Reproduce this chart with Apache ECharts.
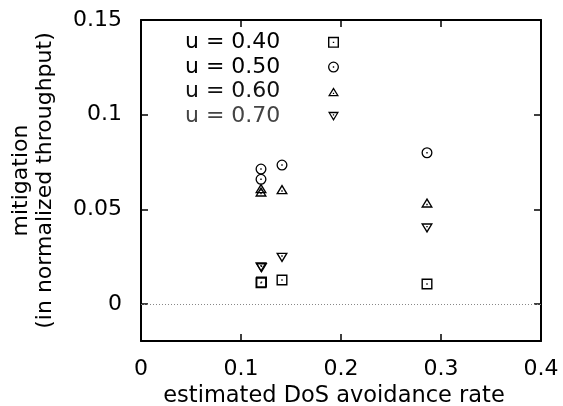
<!DOCTYPE html>
<html>
<head>
<meta charset="utf-8">
<script src="https://cdn.jsdelivr.net/npm/echarts@6/dist/echarts.min.js"></script>
<style>html,body{margin:0;padding:0;background:#fff}#c{width:563px;height:406px}</style>
</head>
<body>
<div id="c"></div>
<script>
var seriesNames = ['u = 0.40', 'u = 0.50', 'u = 0.60', 'u = 0.70'];
var u40 = [[0.12, 0.0112], [0.1205, 0.0116], [0.141, 0.0127], [0.286, 0.0106]];
var u50 = [[0.12, 0.0713], [0.12, 0.0659], [0.141, 0.0734], [0.286, 0.0799]];
var u60 = [[0.12, 0.0611], [0.12, 0.0593], [0.141, 0.0606], [0.286, 0.0535]];
var u70 = [[0.12, 0.0194], [0.1205, 0.0190], [0.141, 0.0245], [0.286, 0.0400]];
var xTicks = [0, 0.1, 0.2, 0.3, 0.4];
var yTicks = [0, 0.05, 0.1, 0.15];
var yTickLabels = ['0', '0.05', '0.1', '0.15'];

var FONT = 'DejaVu Sans';
var symSquare = 'path://M0 0H11V11H0Z M1.4 1.4V9.6H9.6V1.4Z M4.8 4.8H6.2V6.2H4.8Z';
var symCircle = 'path://M5.5 0A5.5 5.5 0 1 1 5.5 11A5.5 5.5 0 1 1 5.5 0Z M5.5 1.3A4.2 4.2 0 1 0 5.5 9.7A4.2 4.2 0 1 0 5.5 1.3Z M4.8 4.8H6.2V6.2H4.8Z';
var symUp = 'path://M6 0L12 10L0 10Z M6 2.7L2.4 8.6L9.6 8.6Z M5.3 6H6.7V7.4H5.3Z';
var symDown = 'path://M0 0L12 0L6 10Z M2.4 1.4L6 7.3L9.6 1.4Z M5.3 2.6H6.7V4H5.3Z';
var symbols = [symSquare, symCircle, symUp, symDown];
var sizes = [[11, 11], [11, 11], [12, 10], [12, 10]];
var datas = [u40, u50, u60, u70];
var textColors = ['#000', '#000', '#111', '#444'];

var chart = echarts.init(document.getElementById('c'), null, {renderer: 'canvas'});
var series = datas.map(function (d, i) {
  var s = {
    name: seriesNames[i],
    type: 'scatter',
    data: d,
    symbol: symbols[i],
    symbolSize: sizes[i],
    itemStyle: {color: '#000', opacity: 1},
    emphasis: {disabled: true},
    z: 5
  };
  if (i === 0) {
    s.markLine = {
      silent: true,
      symbol: 'none',
      label: {show: false},
      lineStyle: {type: [1, 2], color: '#888', width: 1},
      data: [{yAxis: 0}],
      animation: false
    };
  }
  return s;
});

var rich = {};
textColors.forEach(function (c, i) {
  rich['t' + i] = {width: 138, align: 'left', color: c, fontSize: 22, fontFamily: FONT, lineHeight: 24.7};
});

var axisCommon = {
  type: 'value',
  axisLine: {show: true, onZero: false, lineStyle: {color: '#000', width: 2}},
  axisTick: {show: true, inside: true, length: 7, lineStyle: {color: '#000', width: 1.5}},
  splitLine: {show: false}
};

chart.setOption({
  animation: false,
  backgroundColor: '#fff',
  textStyle: {fontFamily: FONT},
  grid: {left: 141, right: 22, top: 20, bottom: 65, containLabel: false, outerBoundsMode: 'none'},
  legend: {
    orient: 'vertical',
    left: 185,
    top: 30,
    padding: 0,
    align: 'right',
    itemGap: 0,
    itemWidth: 11,
    itemHeight: 11,
    selectedMode: false,
    data: seriesNames,
    formatter: function (n) {
      return '{t' + seriesNames.indexOf(n) + '|' + n + '}';
    },
    textStyle: {fontFamily: FONT, fontSize: 22, lineHeight: 24.7, color: '#000', rich: rich}
  },
  xAxis: [
    Object.assign({}, axisCommon, {
      min: 0, max: 0.4, interval: 0.1,
      name: 'estimated DoS avoidance rate',
      nameLocation: 'middle',
      nameGap: 42,
      nameTextStyle: {fontFamily: FONT, fontSize: 22.5, color: '#000', padding: [0, 14, 0, 0]},
      axisLabel: {fontFamily: FONT, fontSize: 22, color: '#000', margin: 17,
        formatter: function (v) { return String(v); }}
    }),
    Object.assign({}, axisCommon, {
      position: 'top', min: 0, max: 0.4, interval: 0.1,
      axisLabel: {show: false}
    })
  ],
  yAxis: [
    Object.assign({}, axisCommon, {
      min: -0.0195, max: 0.15,
      name: 'mitigation\n(in normalized throughput)',
      nameLocation: 'middle',
      nameGap: 84,
      nameTextStyle: {fontFamily: FONT, fontSize: 22, color: '#000', lineHeight: 24, align: 'center'},
      axisTick: {show: true, inside: true, length: 7, customValues: yTicks, lineStyle: {color: '#000', width: 1.5}},
      axisLabel: {fontFamily: FONT, fontSize: 22, color: '#000', margin: 19, customValues: yTicks,
        formatter: function (v) {
          var idx = yTicks.indexOf(Math.round(v * 1000) / 1000);
          return idx >= 0 ? yTickLabels[idx] : '';
        }}
    }),
    Object.assign({}, axisCommon, {
      position: 'right', min: -0.0195, max: 0.15,
      axisTick: {show: true, inside: true, length: 7, customValues: yTicks, lineStyle: {color: '#000', width: 1.5}},
      axisLabel: {show: false}
    })
  ],
  series: series
});
</script>
</body>
</html>
